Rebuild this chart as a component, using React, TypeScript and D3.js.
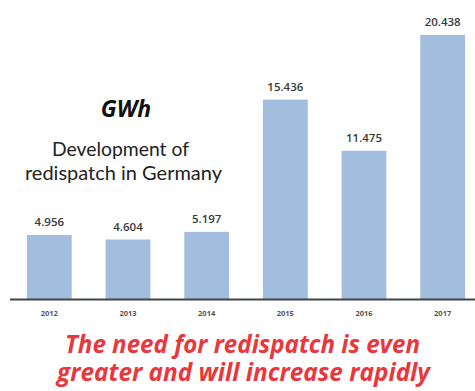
import React from "react";
import * as d3 from "d3";

const years = ["2012", "2013", "2014", "2015", "2016", "2017"];
const values = [4.956, 4.604, 5.197, 15.436, 11.475, 20.438];
const valueLabels = ["4.956", "4.604", "5.197", "15.436", "11.475", "20.438"];

const W = 475;
const H = 391;
const baseY = 299;

export default function App() {
  const x = d3.scaleBand<string>().domain(years).range([10, 482]).paddingInner(0.43).paddingOuter(0.215);
  const y = d3.scaleLinear().domain([0, 20.438]).range([baseY, 35]);
  const font = "'Open Sans', 'DejaVu Sans', sans-serif";
  const font2 = "Lato, 'Open Sans', sans-serif";
  return (
    <svg width={W} height={H} style={{ position: "absolute", left: 0, top: 0, background: "#fff" }}>
      {years.map((yr, i) => (
        <g key={yr}>
          <rect x={x(yr)} y={y(values[i])} width={x.bandwidth()} height={baseY - y(values[i])} fill="#a3bddf" />
          <text x={(x(yr) as number) + x.bandwidth() / 2} y={y(values[i]) - 9} textAnchor="middle" fontFamily={font} fontSize={11.5} fontWeight={600} fill="#3a3a3a">
            {valueLabels[i]}
          </text>
          <text x={(x(yr) as number) + x.bandwidth() / 2} y={316} textAnchor="middle" fontFamily={font} fontSize={7.5} fontWeight={700} fill="#555">
            {yr}
          </text>
        </g>
      ))}
      <line x1={10} x2={475} y1={baseY + 0.5} y2={baseY + 0.5} stroke="#3f4447" strokeWidth={2} />
      <text x={126} y={117} textAnchor="middle" fontFamily={font} fontSize={23} fontWeight={700} fontStyle="italic" fill="#111">GWh</text>
      <text x={52} y={156} fontFamily={font2} fontSize={19} fill="#222" textLength={137} lengthAdjust="spacingAndGlyphs">Development of</text>
      <text x={25} y={180} fontFamily={font2} fontSize={19} fill="#222" textLength={197} lengthAdjust="spacingAndGlyphs">redispatch in Germany</text>
      <text x={65} y={353} fontFamily={font} fontSize={25} fontWeight={700} fontStyle="italic" fill="#e8383d" textLength={355} lengthAdjust="spacingAndGlyphs">The need for redispatch is even</text>
      <text x={57} y={381} fontFamily={font} fontSize={25} fontWeight={700} fontStyle="italic" fill="#e8383d" textLength={373} lengthAdjust="spacingAndGlyphs">greater and will increase rapidly</text>
    </svg>
  );
}
